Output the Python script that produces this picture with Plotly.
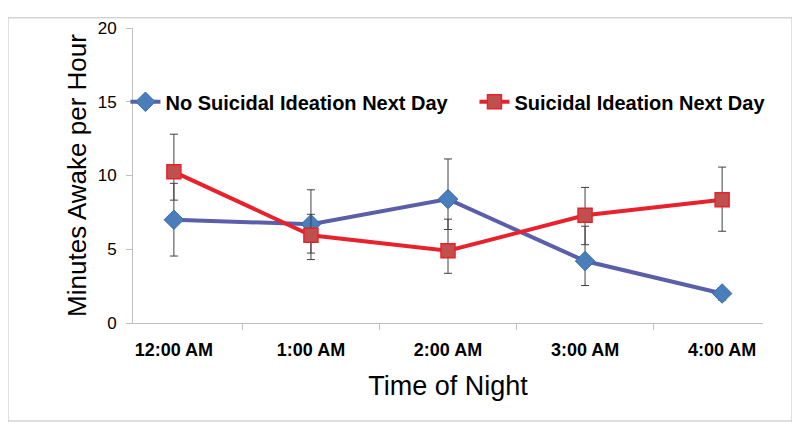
import plotly.graph_objects as go

times = ["12:00 AM", "1:00 AM", "2:00 AM", "3:00 AM", "4:00 AM"]

no_si = [7.0, 6.7, 8.4, 4.2, 2.0]
no_si_plus = [2.47, 2.33, 2.72, 2.36, 0.25]
no_si_minus = [2.46, 1.96, 2.06, 1.66, 0.45]

si = [10.25, 5.95, 4.9, 7.3, 8.35]
si_plus = [2.55, 1.42, 2.14, 1.89, 2.22]
si_minus = [1.92, 1.65, 1.53, 1.99, 2.13]

font = "Liberation Sans, Arial, sans-serif"

fig = go.Figure()
fig.add_trace(go.Scatter(
    x=times, y=no_si, name="No Suicidal Ideation Next Day", mode="lines+markers",
    line=dict(color="#5b5ea8", width=4),
    marker=dict(symbol="diamond", size=15, color="#4a7ebb", line=dict(color="#3a6aa8", width=1)),
    error_y=dict(type="data", symmetric=False, array=no_si_plus, arrayminus=no_si_minus,
                 color="#404040", thickness=1, width=4),
    legend="legend",
))
fig.add_trace(go.Scatter(
    x=times, y=si, name="Suicidal Ideation Next Day", mode="lines+markers",
    line=dict(color="#e8222c", width=4),
    marker=dict(symbol="square", size=14, color="#c0504d", line=dict(color="#e8222c", width=1.5)),
    error_y=dict(type="data", symmetric=False, array=si_plus, arrayminus=si_minus,
                 color="#404040", thickness=1, width=4),
    legend="legend2",
))

# page body adds an 8px offset, so the figure is drawn 8px smaller
W, H = 792, 425
L, R, T, B = 125, 37, 11, 110
pw, ph = W - L - R, H - T - B

# outer chart border
fig.add_shape(type="rect", xref="paper", yref="paper",
              x0=(0 - L) / pw, x1=(784 - L) / pw,
              y0=(H - B - 416) / ph, y1=(H - B - 0.5) / ph,
              line=dict(color="#bfbfbf", width=1), layer="below")

legend_style = dict(orientation="h", y=0.75, xanchor="left", yanchor="middle",
                    font=dict(size=20, family=font, weight="bold"),
                    bgcolor="rgba(0,0,0,0)")

fig.update_layout(
    width=W, height=H,
    margin=dict(l=L, r=R, t=T, b=B),
    paper_bgcolor="white", plot_bgcolor="white",
    font=dict(family=font, color="black"),
    showlegend=True,
    legend=dict(x=-0.012, **legend_style),
    legend2=dict(x=0.542, **legend_style),
    xaxis=dict(
        title=dict(text="Time of Night", font=dict(size=27), standoff=17),
        tickfont=dict(size=18, weight="bold"),
        showline=True, linecolor="#bfbfbf", linewidth=1,
        ticks="outside", tickson="boundaries", ticklen=6, tickcolor="#bfbfbf",
        ticklabelstandoff=10,
        showgrid=False, zeroline=False,
    ),
    yaxis=dict(
        title=dict(text="Minutes Awake per Hour", font=dict(size=26), standoff=3),
        tickfont=dict(size=17),
        range=[0, 20], dtick=5,
        showline=True, linecolor="#bfbfbf", linewidth=1,
        ticks="outside", ticklen=6, tickcolor="#bfbfbf", ticklabelstandoff=6,
        showgrid=False, zeroline=False,
    ),
)

fig.write_html("out.html")
